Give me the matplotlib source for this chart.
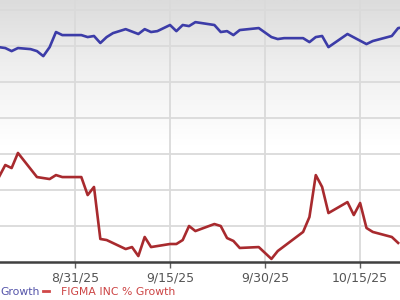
import numpy as np
import pandas as pd
import matplotlib
matplotlib.use("Agg")
import matplotlib.pyplot as plt
import matplotlib.dates as mdates
from matplotlib.lines import Line2D

# Data (% growth)
blue_dates = ["2025-08-19", "2025-08-20", "2025-08-21", "2025-08-22", "2025-08-24",
              "2025-08-25", "2025-08-26", "2025-08-27", "2025-08-28", "2025-08-29",
              "2025-09-01", "2025-09-02", "2025-09-03", "2025-09-04", "2025-09-05",
              "2025-09-06", "2025-09-08", "2025-09-10", "2025-09-11", "2025-09-12",
              "2025-09-13", "2025-09-15", "2025-09-16", "2025-09-17", "2025-09-18",
              "2025-09-19", "2025-09-22", "2025-09-23", "2025-09-24", "2025-09-25",
              "2025-09-26", "2025-09-29", "2025-10-01", "2025-10-02", "2025-10-03",
              "2025-10-06", "2025-10-07", "2025-10-08", "2025-10-09", "2025-10-10",
              "2025-10-13", "2025-10-16", "2025-10-17", "2025-10-20", "2025-10-21",
              "2025-10-22"]
blue_vals = [59.4, 58.9, 57.2, 58.9, 58.3,
             57.2, 54.4, 59.4, 67.8, 66.1,
             66.1, 65.0, 65.6, 61.7, 65.0,
             67.2, 69.4, 66.7, 69.4, 67.8,
             68.3, 71.7, 68.3, 71.7, 71.1,
             73.3, 71.7, 67.8, 68.3, 66.1,
             68.9, 70.0, 65.0, 63.9, 64.4,
             64.4, 62.2, 65.0, 65.6, 59.4,
             66.7, 61.1, 62.8, 65.6, 70.0,
             70.5]

red_dates = ["2025-08-19", "2025-08-20", "2025-08-21", "2025-08-22", "2025-08-25",
             "2025-08-27", "2025-08-28", "2025-08-29", "2025-09-01", "2025-09-02",
             "2025-09-03", "2025-09-04", "2025-09-05", "2025-09-08", "2025-09-09",
             "2025-09-10", "2025-09-11", "2025-09-12", "2025-09-15", "2025-09-16",
             "2025-09-17", "2025-09-18", "2025-09-19", "2025-09-22", "2025-09-23",
             "2025-09-24", "2025-09-25", "2025-09-26", "2025-09-29", "2025-10-01",
             "2025-10-02", "2025-10-06", "2025-10-07", "2025-10-08", "2025-10-09",
             "2025-10-10", "2025-10-13", "2025-10-14", "2025-10-15", "2025-10-16",
             "2025-10-17", "2025-10-20", "2025-10-21"]
red_vals = [-12.8, -6.1, -7.8, 0.6, -12.8,
            -13.9, -11.7, -12.8, -12.8, -22.8,
            -18.3, -47.2, -47.8, -52.8, -51.7,
            -56.7, -46.1, -51.7, -50.0, -50.0,
            -47.8, -40.0, -42.8, -38.9, -40.0,
            -46.7, -48.3, -52.2, -51.7, -58.3,
            -53.9, -43.3, -35.0, -11.7, -18.3,
            -32.8, -26.7, -33.9, -27.2, -41.1,
            -43.3, -46.1, -49.4]

tick_dates = ["2025-08-31", "2025-09-15", "2025-09-30", "2025-10-15"]
tick_labels = ["8/31/25", "9/15/25", "9/30/25", "10/15/25"]
y_grid = [-60, -40, -20, 0, 20, 40, 60, 80]

blue_x = pd.to_datetime(blue_dates)
red_x = pd.to_datetime(red_dates)
ticks_x = pd.to_datetime(tick_dates)

fig = plt.figure(figsize=(4, 3), dpi=100)
ax = fig.add_axes([0, 38 / 300, 1, 1 - 38 / 300])

x0 = mdates.date2num(pd.Timestamp("2025-08-19 04:00"))
x1 = mdates.date2num(pd.Timestamp("2025-10-21 07:00"))
ax.set_xlim(x0, x1)
ax.set_ylim(-60, 85.6)

# gray-to-white background gradient
grad = np.linspace(0, 1, 256).reshape(-1, 1)
cmap = matplotlib.colors.LinearSegmentedColormap.from_list(
    "bg", [(0, "#ffffff"), (0.45, "#ffffff"), (0.75, "#efefef"), (1, "#dcdcdc")])
ax.imshow(grad, extent=[0, 1, 0, 1], transform=ax.transAxes, origin="lower",
          aspect="auto", cmap=cmap, zorder=0)

for y in y_grid[1:]:
    ax.axhline(y, color="#dadada", lw=1.3, zorder=1)
for t in ticks_x:
    ax.axvline(t, color="#dadada", lw=1.3, zorder=1)

ax.plot(blue_x, blue_vals, color="#3c3ca8", lw=1.9, zorder=3, solid_joinstyle="round")
ax.plot(red_x, red_vals, color="#a82a2e", lw=1.9, zorder=3, solid_joinstyle="round")

for s in ["top", "left", "right"]:
    ax.spines[s].set_visible(False)
ax.spines["bottom"].set_color("#404040")
ax.spines["bottom"].set_linewidth(1.8)
ax.set_yticks([])
ax.set_xticks(ticks_x)
ax.set_xticklabels(tick_labels)
ax.tick_params(axis="x", length=4, width=1, color="#606060", labelsize=9,
               labelcolor="#555555", pad=3)

# legend text (partly cut off on the left)
fig.text(40 / 400, 8 / 300, "Growth", color="#5555aa", fontsize=7.8,
         ha="right", va="center")
fig.add_artist(Line2D([43 / 400, 49 / 400], [9 / 300, 9 / 300], color="#d04848",
                      lw=2, transform=fig.transFigure))
fig.text(61 / 400, 8 / 300, "FIGMA INC % Growth", color="#cc4444", fontsize=7.8,
         ha="left", va="center")

fig.savefig("out.png", dpi=100)
